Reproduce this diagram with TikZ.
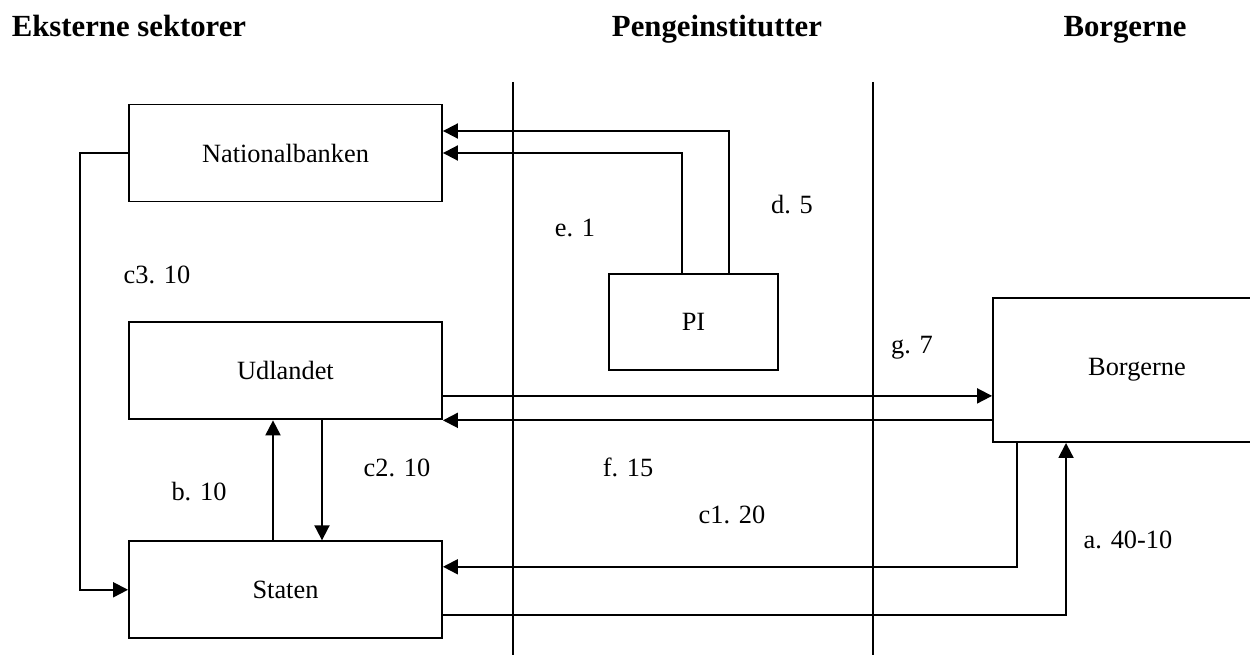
\documentclass[tikz,border=0pt]{standalone}
\usepackage{fontspec}
\setmainfont{Liberation Serif}
\usetikzlibrary{arrows.meta, positioning}

\begin{document}
\begin{tikzpicture}[
    x=0.02cm, y=-0.02cm,
    sector/.style={rectangle, draw=black, line width=1.1pt, minimum width=6.26cm, minimum height=1.94cm, align=center, font=\fontsize{15}{18}\selectfont},
    heading/.style={anchor=base, font=\fontsize{17.5}{21}\selectfont\bfseries},
    flowlabel/.style={font=\fontsize{15}{18}\selectfont},
    divider/.style={line width=1.1pt},
    arrow/.style={-{Triangle[length=0.3cm, width=0.3cm]}, line width=1.1pt}
]
\useasboundingbox (0,0) rectangle (1250,655);

% Headings
\node[heading] (hext) at (129,37) {Eksterne sektorer};
\node[heading] (hpi) at (717,37) {Pengeinstitutter};
\node[heading] (hborg) at (1125,37) {Borgerne};

% Dividers between the sectors
\draw[divider] (513,82) -- (513,655);
\draw[divider] (873,82) -- (873,655);

% Sectors
\node[sector] (nb) at (285.5,153) {Nationalbanken};
\node[sector, below=2.38cm of nb] (ud) {Udlandet};
\node[sector, below=2.4cm of ud] (st) {Staten};
\node[sector, minimum width=3.38cm, minimum height=1.92cm] (pi) at (693.5,322) {PI};
\node[sector, minimum width=5.76cm, minimum height=2.88cm] (bo) at (1137,370) {Borgerne};

% Connectors
\draw[arrow] ([xshift=-0.23cm]pi.north) |- (nb.east);
\draw[arrow] ([xshift=0.71cm]pi.north) |- ([yshift=0.44cm]nb.east);

\draw[arrow] (nb.west) -- ++(-48,0) |- (st.west);

\draw[arrow] ([xshift=-0.25cm]st.north) -- ([xshift=-0.25cm]ud.south);
\draw[arrow] ([xshift=0.73cm]ud.south) -- ([xshift=0.73cm]st.north);

\draw[arrow] (ud.east) ++(0,25) coordinate (udout) -- (udout -| bo.west);
\draw[arrow] (bo.west |- ud.south) -- (ud.south east);

\draw[arrow] ([xshift=-2.4cm]bo.south) |- ([yshift=0.46cm]st.east);
\draw[arrow] ([yshift=-0.5cm]st.east) -| ([xshift=-1.42cm]bo.south);

% Flow labels
\node[flowlabel] (le) at (575,228) {e. 1};
\node[flowlabel] (ld) at (792,205) {d. 5};
\node[flowlabel] (lc3) at (157,275) {c3. 10};
\node[flowlabel] (lg) at (912,348) {g. 7};
\node[flowlabel] (lb) at (199,492) {b. 10};
\node[flowlabel] (lc2) at (397,468) {c2. 10};
\node[flowlabel] (lf) at (628,467) {f. 15};
\node[flowlabel] (lc1) at (732,515) {c1. 20};
\node[flowlabel] (la) at (1128,540) {a. 40-10};

\end{tikzpicture}
\end{document}
